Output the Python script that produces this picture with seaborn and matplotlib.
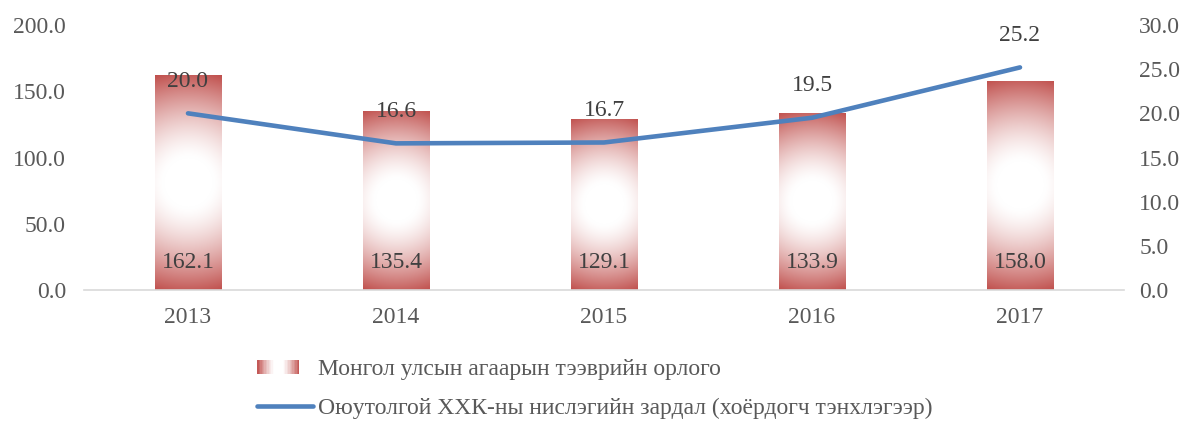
import numpy as np
import pandas as pd
import matplotlib
matplotlib.use("Agg")
import matplotlib.pyplot as plt
import seaborn as sns
from matplotlib.legend_handler import HandlerBase
from matplotlib.patches import Rectangle
from matplotlib.lines import Line2D

# Data
years = ["2013", "2014", "2015", "2016", "2017"]
revenue = [162.1, 135.4, 129.1, 133.9, 158.0]
flight_cost = [20.0, 16.6, 16.7, 19.5, 25.2]
bar_label = "Монгол улсын агаарын тээврийн орлого"
line_label = "Оюутолгой ХХК-ны нислэгийн зардал (хоёрдогч тэнхлэгээр)"
left_ticks = [0, 50, 100, 150, 200]
right_ticks = [0, 5, 10, 15, 20, 25, 30]

RED = np.array([192, 80, 77]) / 255.0
BLUE = "#4F81BD"
TICK_GRAY = "#595959"
LABEL_GRAY = "#404040"
FS = 17

sns.set_theme(style="white")
plt.rcParams["font.family"] = ["Liberation Serif", "DejaVu Serif"]

W, H, DPI = 11.88, 4.23, 100
fig = plt.figure(figsize=(W, H), dpi=DPI)
ax_l, ax_r, ax_b, ax_t = 84, 1124, 290, 25
ax = fig.add_axes([ax_l / 1188, 1 - ax_b / 423, (ax_r - ax_l) / 1188, (ax_b - ax_t) / 423])

df = pd.DataFrame({"year": years, "revenue": revenue})
sns.barplot(data=df, x="year", y="revenue", ax=ax, width=0.32, color=RED, saturation=1)
ax.set_xlim(-0.5, 4.5)
ax.set_ylim(0, 200)

# pixels per data unit, for the radial fill
px_per_x = (ax_r - ax_l) / 5.0
px_per_y = (ax_b - ax_t) / 200.0


def radial_colors(wpx, hpx):
    xs = np.linspace(-wpx / 2, wpx / 2, max(int(wpx), 2))
    ys = np.linspace(-hpx / 2, hpx / 2, max(int(hpx), 2))
    X, Y = np.meshgrid(xs, ys)
    R = np.hypot(wpx / 2, hpx / 2)
    d = np.hypot(X, Y) / R
    t = np.clip((d - 0.22) / 0.78, 0, 1) ** 1.4
    img = np.ones(X.shape + (3,)) * (1 - t[..., None]) + RED * t[..., None]
    return img


for patch in ax.patches:
    x0, w, h = patch.get_x(), patch.get_width(), patch.get_height()
    img = radial_colors(w * px_per_x, h * px_per_y)
    im = ax.imshow(img, extent=(x0, x0 + w, 0, h), aspect="auto", zorder=1.5,
                   interpolation="bilinear")
    im.set_clip_path(patch)
    patch.set_facecolor("none")
    patch.set_edgecolor("none")
ax.set_xlim(-0.5, 4.5)
ax.set_ylim(0, 200)
ax.set_aspect("auto")

# value labels near the base of each bar
for i, v in enumerate(revenue):
    ax.annotate(f"{v:.1f}", xy=(i, 0), xytext=(0, 27 * 72 / DPI), textcoords="offset points",
                ha="center", va="center", fontsize=FS, color=LABEL_GRAY, zorder=4)

ax2 = ax.twinx()
sns.lineplot(x=np.arange(len(years)), y=flight_cost, ax=ax2, color=BLUE, linewidth=3.3,
             solid_capstyle="round", zorder=3)
ax2.set_ylim(0, 30)
for i, v in enumerate(flight_cost):
    ax2.annotate(f"{v:.1f}", xy=(i, v), xytext=(0, 32 * 72 / DPI), textcoords="offset points",
                 ha="center", va="center", fontsize=FS, color=LABEL_GRAY)

ax.set_yticks(left_ticks)
ax.set_yticklabels([f"{t:.1f}" for t in left_ticks])
ax2.set_yticks(right_ticks)
ax2.set_yticklabels([f"{t:.1f}" for t in right_ticks])
ax.set_xlabel("")
ax.set_ylabel("")
ax2.set_ylabel("")

for a in (ax, ax2):
    for s in a.spines.values():
        s.set_visible(False)
    a.grid(False)
ax.spines["bottom"].set_visible(True)
ax.spines["bottom"].set_color("#D9D9D9")
ax.spines["bottom"].set_linewidth(1.2)

ax.tick_params(axis="y", length=0, pad=13, labelsize=FS, labelcolor=TICK_GRAY)
ax.tick_params(axis="x", length=0, pad=12, labelsize=FS, labelcolor=TICK_GRAY)
ax2.tick_params(axis="y", length=0, pad=11, labelsize=FS, labelcolor=TICK_GRAY)


class GradientPatchHandler(HandlerBase):
    def create_artists(self, legend, orig_handle, xdescent, ydescent, width, height,
                       fontsize, trans):
        n = 30
        pw = width * 0.75
        ph = height * 0.85
        y0 = -ydescent + (height - ph) / 2
        arts = []
        for k in range(n):
            u = (k + 0.5) / n
            d = abs(u - 0.5) / 0.5
            t = np.clip((d - 0.2) / 0.8, 0, 1) ** 1.3
            c = (1 - t) * np.ones(3) + t * RED
            r = Rectangle((-xdescent + pw * k / n, y0), pw / n * 1.05, ph,
                          facecolor=c, edgecolor="none", transform=trans)
            arts.append(r)
        return arts


bar_handle = Rectangle((0, 0), 1, 1)
line_handle = Line2D([0], [0], color=BLUE, linewidth=3.3, solid_capstyle="round")
fig.legend([bar_handle, line_handle], [bar_label, line_label],
           handler_map={Rectangle: GradientPatchHandler()},
           loc="center", bbox_to_anchor=(595 / 1188, 1 - 389 / 423),
           frameon=False, fontsize=FS, labelcolor=TICK_GRAY, ncol=1,
           handlelength=2.37, handletextpad=0.2, labelspacing=0.75)

fig.savefig("out.png", dpi=DPI)
